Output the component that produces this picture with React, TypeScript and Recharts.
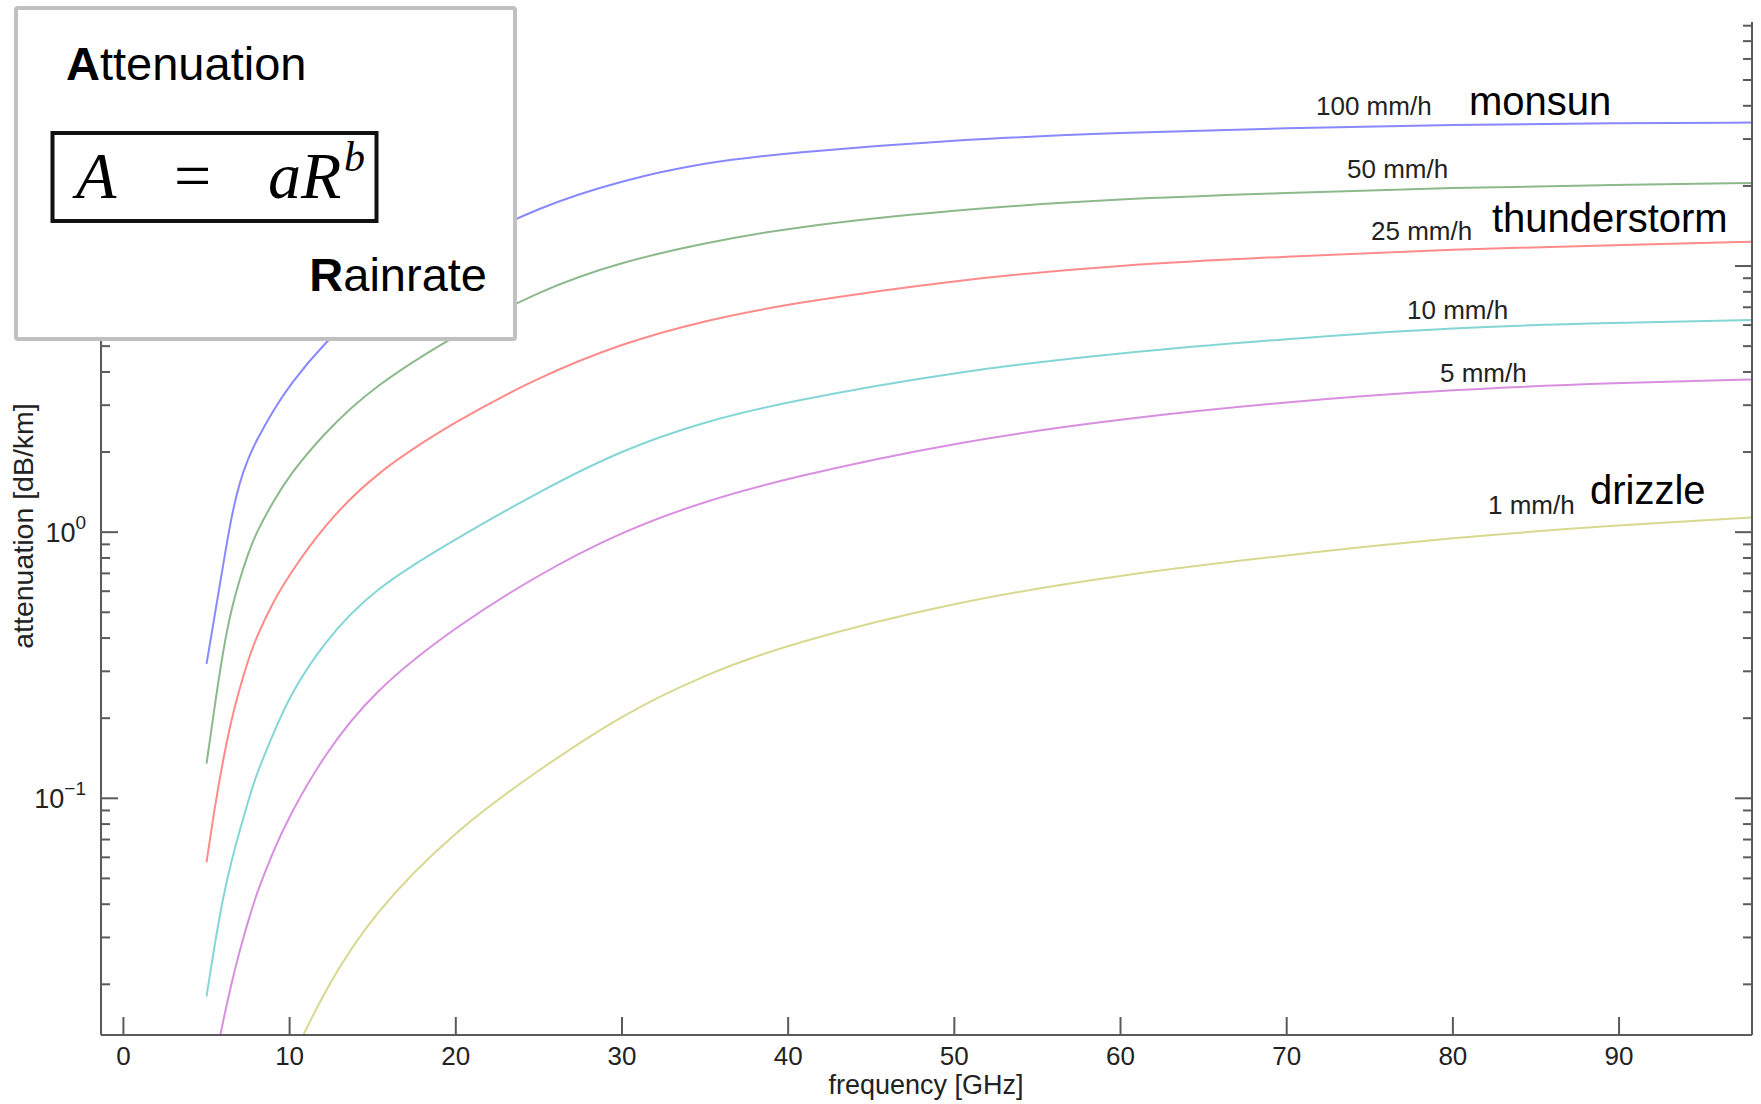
import React from "react";
import { LineChart, Line, XAxis, YAxis } from "recharts";

// ----------------------------- Data -----------------------------
const freq = [5, 5.5, 6, 6.5, 7, 7.5, 8, 9, 10, 12, 15, 20, 25, 30, 35, 40, 50, 60, 70, 80, 90, 98];

const rain100 = [0.32, 0.49, 0.753, 1.15, 1.55, 1.89, 2.21, 2.86, 3.57, 5.08, 7.62, 11.7, 16.7, 21.0, 24.5, 26.6, 29.8, 31.7, 33.0, 34.0, 34.4, 34.6];
const rain50 = [0.135, 0.224, 0.361, 0.516, 0.667, 0.83, 0.998, 1.3, 1.64, 2.33, 3.52, 5.52, 8.09, 10.4, 12.2, 13.95, 16.3, 17.9, 18.8, 19.7, 20.2, 20.5];
const rain25 = [0.0575, 0.0933, 0.14, 0.198, 0.26, 0.33, 0.403, 0.547, 0.695, 1.046, 1.646, 2.62, 3.83, 5.13, 6.25, 7.21, 8.87, 10.1, 10.86, 11.58, 12.0, 12.33];
const rain10 = [0.018, 0.0285, 0.0427, 0.0582, 0.0759, 0.0973, 0.123, 0.174, 0.243, 0.382, 0.611, 0.944, 1.42, 2.04, 2.61, 3.1, 4.01, 4.73, 5.33, 5.89, 6.12, 6.27];
const rain5 = [0.0068, 0.0102, 0.0146, 0.0202, 0.0268, 0.0345, 0.0437, 0.0631, 0.0863, 0.1435, 0.252, 0.443, 0.695, 1.007, 1.31, 1.6, 2.18, 2.67, 3.09, 3.44, 3.64, 3.75];
const rain1 = [null, null, null, null, null, null, null, null, 0.01, 0.0186, 0.037, 0.0762, 0.128, 0.2065, 0.292, 0.38, 0.548, 0.692, 0.82, 0.955, 1.064, 1.135];

const xTicks = [0, 10, 20, 30, 40, 50, 60, 70, 80, 90];
const yTicks = [
  0.02, 0.03, 0.04, 0.05, 0.06, 0.07, 0.08, 0.09,
  0.1, 0.2, 0.3, 0.4, 0.5, 0.6, 0.7, 0.8, 0.9,
  1, 2, 3, 4, 5, 6, 7, 8, 9,
  10, 20, 30, 40, 50, 60, 70, 80,
];

const series = [
  { key: "r100", color: "#8888ff", values: rain100 },
  { key: "r50", color: "#8cb98c", values: rain50 },
  { key: "r25", color: "#ff8a8a", values: rain25 },
  { key: "r10", color: "#84d6d6", values: rain10 },
  { key: "r5", color: "#d98fe0", values: rain5 },
  { key: "r1", color: "#d8d890", values: rain1 },
];

const data = freq.map((f, i) => {
  const row: any = { f };
  series.forEach((s) => (row[s.key] = s.values[i]));
  return row;
});

// ----------------------------- Layout -----------------------------
const W = 1761;
const H = 1104;
const PLOT = { left: 101, right: 1752, top: 22, bottom: 1035 };
const AXIS = "#5a5a5a";
const SANS = "'Liberation Sans', Arial, sans-serif";
const SERIF = "'Liberation Serif', 'Times New Roman', serif";

const isMajor = (v: number) => Math.abs(Math.log10(v) - Math.round(Math.log10(v))) < 1e-6;

const BottomTick = (props: any) => {
  const { x, payload } = props;
  return (
    <g>
      <line x1={x} x2={x} y1={PLOT.bottom} y2={PLOT.bottom - 18} stroke={AXIS} strokeWidth={2} />
      <text x={x} y={1065} textAnchor="middle" fontSize={26} fill="#222" fontFamily={SANS}>
        {payload.value}
      </text>
    </g>
  );
};

const TopTick = (props: any) => {
  const { x } = props;
  return <line x1={x} x2={x} y1={PLOT.top} y2={PLOT.top + 18} stroke={AXIS} strokeWidth={2} />;
};

const LeftTick = (props: any) => {
  const { y, payload } = props;
  const major = isMajor(payload.value);
  const exp = Math.round(Math.log10(payload.value));
  return (
    <g>
      <line x1={PLOT.left} x2={PLOT.left + (major ? 17 : 9)} y1={y} y2={y} stroke={AXIS} strokeWidth={2} />
      {major && (
        <text x={86} y={y + 10} textAnchor="end" fontSize={27} fill="#222" fontFamily={SANS}>
          10
          <tspan dy={-13} fontSize={19}>
            {exp < 0 ? `\u2212${-exp}` : exp}
          </tspan>
        </text>
      )}
    </g>
  );
};

const RightTick = (props: any) => {
  const { y, payload } = props;
  const major = isMajor(payload.value);
  return <line x1={PLOT.right} x2={PLOT.right - (major ? 17 : 9)} y1={y} y2={y} stroke={AXIS} strokeWidth={2} />;
};

// series annotations
const notes = [
  { text: "100 mm/h", x: 1316, y: 115, size: 26, fill: "#222" },
  { text: "monsun", x: 1469, y: 115, size: 40, fill: "#000" },
  { text: "50 mm/h", x: 1347, y: 178, size: 26, fill: "#222" },
  { text: "25 mm/h", x: 1371, y: 240, size: 26, fill: "#222" },
  { text: "thunderstorm", x: 1492, y: 232, size: 40, fill: "#000" },
  { text: "10 mm/h", x: 1407, y: 319, size: 26, fill: "#222" },
  { text: "5 mm/h", x: 1440, y: 382, size: 26, fill: "#222" },
  { text: "1 mm/h", x: 1488, y: 514, size: 26, fill: "#222" },
  { text: "drizzle", x: 1590, y: 504, size: 40, fill: "#000" },
];

export default function App() {
  const yDomain: [number, number] = [0.0129, 82.6];
  const xDomain: [number, number] = [-1.35, 98];
  return (
    <div style={{ position: "absolute", left: 0, top: 0, width: W, height: H, background: "#fff" }}>
      <LineChart width={W} height={H} data={data} margin={{ top: 22, right: 0, bottom: 0, left: 0 }}>
        <XAxis
          dataKey="f"
          type="number"
          domain={xDomain}
          allowDataOverflow
          ticks={xTicks}
          interval={0}
          height={69}
          tickLine={false}
          axisLine={{ stroke: AXIS, strokeWidth: 2 }}
          tick={<BottomTick />}
        />
        <XAxis
          xAxisId="top"
          orientation="top"
          dataKey="f"
          type="number"
          domain={xDomain}
          allowDataOverflow
          ticks={xTicks}
          interval={0}
          height={0}
          tickLine={false}
          axisLine={{ stroke: AXIS, strokeWidth: 2 }}
          tick={<TopTick />}
        />
        <YAxis
          type="number"
          scale="log"
          domain={yDomain}
          allowDataOverflow
          ticks={yTicks}
          interval={0}
          width={101}
          tickLine={false}
          axisLine={{ stroke: AXIS, strokeWidth: 2 }}
          tick={<LeftTick />}
        />
        <YAxis
          yAxisId="right"
          orientation="right"
          type="number"
          scale="log"
          domain={yDomain}
          allowDataOverflow
          ticks={yTicks}
          interval={0}
          width={9}
          tickLine={false}
          axisLine={{ stroke: AXIS, strokeWidth: 2 }}
          tick={<RightTick />}
        />
        {series.map((s) => (
          <Line
            key={s.key}
            dataKey={s.key}
            type="basis"
            stroke={s.color}
            strokeWidth={2}
            dot={false}
            activeDot={false}
            connectNulls={false}
            isAnimationActive={false}
          />
        ))}
      </LineChart>

      <svg width={W} height={H} style={{ position: "absolute", left: 0, top: 0, pointerEvents: "none" }}>
        {/* axis titles */}
        <text
          transform="translate(33,526) rotate(-90)"
          textAnchor="middle"
          fontSize={28.5}
          fill="#222"
          fontFamily={SANS}
        >
          attenuation [dB/km]
        </text>
        <text x={926} y={1094} textAnchor="middle" fontSize={27} fill="#222" fontFamily={SANS}>
          frequency [GHz]
        </text>

        {notes.map((n) => (
          <text key={n.text} x={n.x} y={n.y} fontSize={n.size} fill={n.fill} fontFamily={SANS}>
            {n.text}
          </text>
        ))}

        {/* formula box */}
        <rect x={16} y={8} width={499} height={331} rx={2} fill="#fff" stroke="#c0c0c0" strokeWidth={4} />
        <text x={66} y={80} fontSize={47} fill="#000" fontFamily={SANS}>
          <tspan fontWeight="bold">A</tspan>ttenuation
        </text>
        <text x={487} y={291} textAnchor="end" fontSize={47} fill="#000" fontFamily={SANS}>
          <tspan fontWeight="bold">R</tspan>ainrate
        </text>
        <rect x={52.5} y={133} width={324} height={88} fill="none" stroke="#111" strokeWidth={4} />
        <text x={76} y={198} fontSize={66} fontStyle="italic" fill="#000" fontFamily={SERIF}>
          A
        </text>
        <text x={174} y={198} fontSize={66} fill="#000" fontFamily={SERIF}>
          =
        </text>
        <text x={268} y={198} fontSize={66} fontStyle="italic" fill="#000" fontFamily={SERIF}>
          aR
        </text>
        <text x={344} y={171} fontSize={42} fontStyle="italic" fill="#000" fontFamily={SERIF}>
          b
        </text>
      </svg>
    </div>
  );
}
